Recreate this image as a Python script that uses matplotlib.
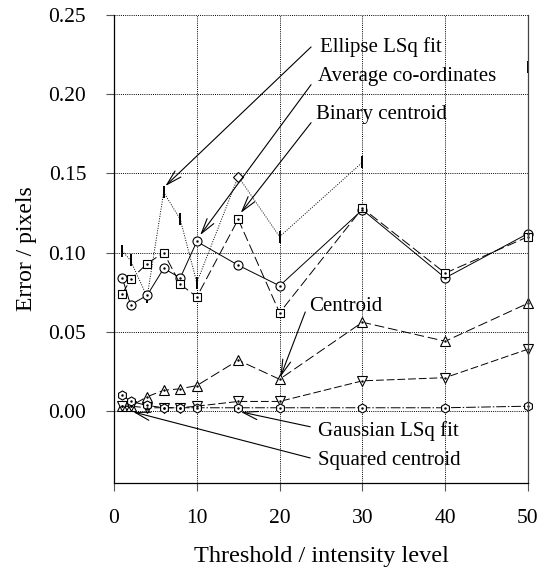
import matplotlib
matplotlib.use('Agg')
import matplotlib.pyplot as plt
import numpy as np

plt.rcParams['font.family'] = ['Liberation Serif', 'DejaVu Serif']

thresh = [1, 2, 4, 6, 8, 10, 15, 20, 30, 40, 50]

ellipse = [0.101, 0.095, 0.072, 0.138, 0.121, 0.081, 0.148, 0.110, 0.157, np.nan, 0.217]
average = [0.084, 0.067, 0.073, 0.090, 0.084, 0.107, 0.092, 0.079, 0.127, 0.084, 0.112]
binary = [0.074, 0.083, 0.093, 0.100, 0.080, 0.072, 0.121, 0.062, 0.128, 0.087, 0.110]
centroid = [0.003, 0.003, 0.009, 0.013, 0.014, 0.016, 0.032, 0.020, 0.056, 0.044, 0.068]
squared = [0.003, 0.003, 0.002, 0.002, 0.002, 0.003, 0.006, 0.006, 0.019, 0.021, 0.039]
gaussian = [0.010, 0.006, 0.0035, 0.002, 0.002, 0.002, 0.002, 0.002, 0.002, 0.002, 0.003]

# label text position, arrow start, arrow tip (data coords)
labels = ['Ellipse LSq fit', 'Average co-ordinates', 'Binary centroid',
          'Centroid', 'Gaussian LSq fit', 'Squared centroid']
label_pos = [(24.9, 0.2295), (24.6, 0.211), (24.4, 0.187),
             (23.6, 0.066), (24.6, -0.013), (24.6, -0.031)]
arrow_from = [(23.8, 0.2298), (23.8, 0.206), (23.8, 0.182),
              (23.1, 0.0625), (23.7, -0.010), (23.7, -0.0297)]
arrow_to = [(6.2, 0.142), (10.4, 0.111), (15.3, 0.125),
            (20.1, 0.0215), (15.3, -0.0006), (2.3, -0.0006)]

fig = plt.figure(figsize=(5.5, 5.72), dpi=100)
ax = fig.add_axes([0.2073, 0.1556, 0.7527, 0.8182])

lw = 0.7
mk = dict(markerfacecolor='white', markeredgecolor='black', markeredgewidth=0.8,
          color='black', lw=lw, clip_on=False)

# ellipse fit - dotted with bar markers (diamond at 15)
ax.plot(thresh, ellipse, linestyle=(0, (1, 1.5)), marker='|', markersize=8,
        markeredgewidth=1.4, markevery=[0, 1, 2, 3, 4, 5, 7, 8, 10], color='black',
        lw=lw, clip_on=False)
ax.plot(thresh[6], ellipse[6], linestyle='none', marker='D', markersize=5,
        markerfacecolor='white', markeredgecolor='black', markeredgewidth=0.8)

ax.plot(thresh, average, linestyle='-', marker='o', markersize=6.5, **mk)
ax.plot(thresh, binary, linestyle=(0, (10, 4)), marker='s', markersize=6, **mk)
ax.plot(thresh, centroid, linestyle=(0, (10, 4)), marker='^', markersize=7, **mk)
ax.plot(thresh, squared, linestyle=(0, (8, 3)), marker='v', markersize=7, **mk)
ax.plot(thresh, gaussian, linestyle=(0, (10, 2, 1.5, 2)), marker='h', markersize=6.5, **mk)

# little centre dots in the markers
for ys in [average, binary, centroid, squared, gaussian]:
    ax.plot(thresh, ys, linestyle='none', marker='.', markersize=1.5, color='black',
            clip_on=False)

for txt, tp, af, at in zip(labels, label_pos, arrow_from, arrow_to):
    ax.annotate('', xy=at, xytext=af,
                arrowprops=dict(arrowstyle='->,head_length=1.1,head_width=0.3',
                                color='black', lw=0.8, shrinkA=0, shrinkB=0))
    ax.text(tp[0], tp[1], txt, ha='left', va='center', fontsize=15)

ax.set_xlim(0, 50)
ax.set_ylim(-0.0455, 0.25)
ax.set_xticks([0, 10, 20, 30, 40, 50])
ax.set_yticks([0.0, 0.05, 0.10, 0.15, 0.20, 0.25])
ax.set_yticklabels(['0.00', '0.05', '0.10', '0.15', '0.20', '0.25'])
ax.tick_params(axis='both', direction='out', length=6, width=0.8, labelsize=15.5, color='#555555')
ax.tick_params(axis='y', pad=14)
ax.tick_params(axis='x', pad=13)

ax.grid(True, linestyle=(0, (1, 1.2)), color='black', lw=0.7)
ax.spines['top'].set_visible(False)
for s in ['left', 'bottom', 'right']:
    ax.spines[s].set_linewidth(0.9)
ax.spines['right'].set_color('#444444')

ax.set_xlabel('Threshold / intensity level', fontsize=17.5, labelpad=13)
ax.set_ylabel('Error / pixels', fontsize=17, labelpad=8)

fig.savefig('out.png', dpi=100)
